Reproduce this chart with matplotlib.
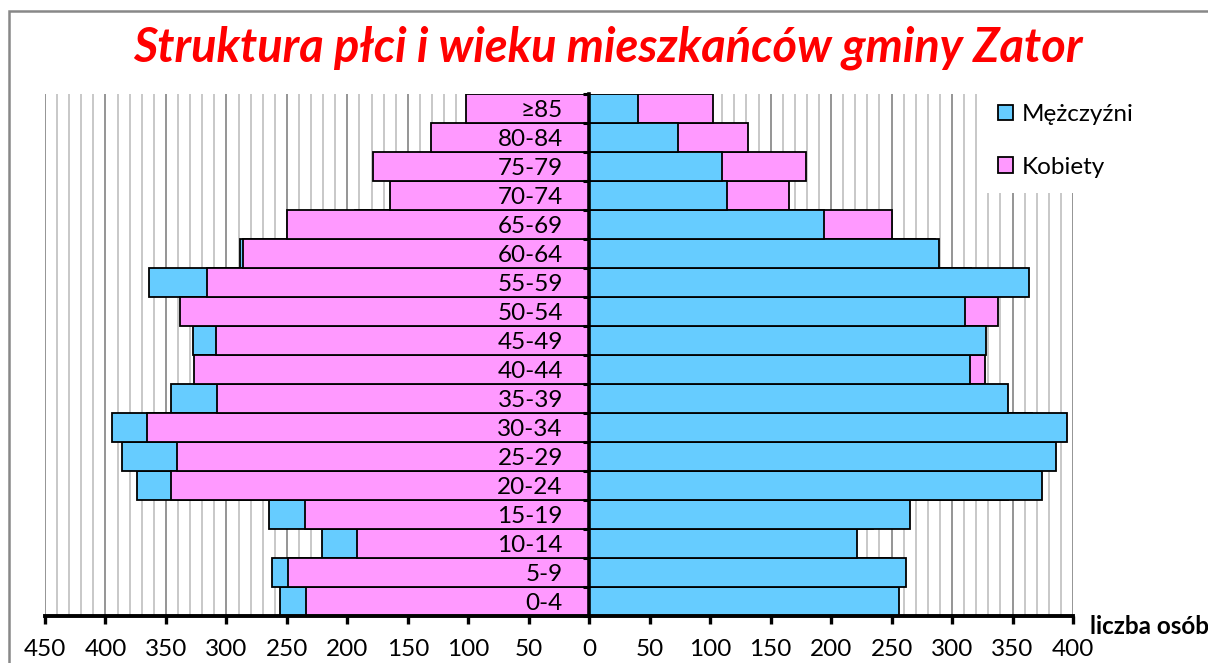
import matplotlib
matplotlib.use("Agg")
import matplotlib.pyplot as plt
from matplotlib.patches import Patch, Rectangle
import numpy as np

categories = ["0-4", "5-9", "10-14", "15-19", "20-24", "25-29", "30-34", "35-39",
              "40-44", "45-49", "50-54", "55-59", "60-64", "65-69", "70-74",
              "75-79", "80-84", "≥85"]
men   = [256, 262, 221, 265, 374, 386, 395, 346, 315, 328, 311, 364, 289, 194, 114, 110, 73, 40]
women = [234, 249, 192, 235, 346, 341, 366, 308, 327, 309, 338, 316, 286, 250, 165, 179, 131, 102]
xticks = list(range(-450, 401, 50))
title = "Struktura płci i wieku mieszkańców gminy Zator"
series_names = ["Mężczyźni", "Kobiety"]
xlabel = "liczba osób"

BLUE = "#66CCFF"
PINK = "#FF99FF"
FONT = ["Lato", "DejaVu Sans"]
plt.rcParams["font.family"] = FONT

W, H = 1208, 663
fig = plt.figure(figsize=(W / 100, H / 100), dpi=100)
ax = fig.add_axes([45 / W, (H - 615.5) / H, (1073 - 45) / W, (615.5 - 94) / H])

y = np.arange(len(categories))
m = np.array(men)
w = np.array(women)

# gridlines
for v in range(-450, 401, 10):
    major = (v % 50 == 0)
    ax.axvline(v, color="#8c8c8c" if major else "#c4c4c4", lw=1.3, zorder=0.5)

ekw = dict(height=1.0, edgecolor="black", linewidth=1.3, zorder=2)
# left side: men behind, women on top
ax.barh(y, -m, color=BLUE, **ekw)
ax.barh(y, -w, color=PINK, **ekw)
# right side: women behind, men on top
ax.barh(y, w, color=PINK, **ekw)
ax.barh(y, m, color=BLUE, **ekw)

ax.set_xlim(-450, 400)
ax.set_ylim(-0.5, len(categories) - 0.5)
ax.set_axisbelow(False)

for s in ["top", "right"]:
    ax.spines[s].set_visible(False)
ax.spines["left"].set_position(("data", 0))
ax.spines["left"].set_linewidth(2.6)
ax.spines["bottom"].set_linewidth(2.8)
ax.spines["left"].set_zorder(3)
ax.spines["bottom"].set_zorder(3)

ax.set_xticks(xticks)
ax.set_xticklabels([str(abs(t)) for t in xticks], fontsize=17.5)
ax.tick_params(axis="x", direction="out", length=6, width=2.4, pad=11, colors="black")

ax.set_yticks(np.arange(-0.5, len(categories), 1.0))
ax.set_yticklabels([])
ax.tick_params(axis="y", which="major", direction="out", length=4.5, width=2.2)
ax.set_yticks(y, minor=True)
ax.set_yticklabels(categories, minor=True, fontsize=17.5)
ax.tick_params(axis="y", which="minor", length=0, pad=19)

fig.text(1090 / W, 1 - 626 / H, xlabel, fontsize=17.5, fontweight="bold",
         ha="left", va="center")

fig.text(608 / W, 1 - 48 / H, title, fontsize=33.8, fontweight="bold", style="italic",
         color="#FF0000", ha="center", va="center")

# chart border
fig.patches.append(Rectangle((9 / W, -0.1), 1.2, 1.1 - 11 / H, transform=fig.transFigure,
                             fill=False, edgecolor="#888888", linewidth=1.8, zorder=0))
# legend background
fig.patches.append(Rectangle((980 / W, (H - 193) / H), (W - 980) / W, (193 - 80) / H,
                             transform=fig.transFigure, facecolor="white",
                             edgecolor="none", zorder=4))
handles = [Patch(facecolor=BLUE, edgecolor="black", linewidth=1.3),
           Patch(facecolor=PINK, edgecolor="black", linewidth=1.3)]
fig.legend(handles, series_names, loc="upper left",
           bbox_to_anchor=(998 / W, 1 - 104 / H), frameon=False, fontsize=17.5,
           handlelength=0.62, handleheight=0.62, handletextpad=0.35,
           labelspacing=1.3, borderpad=0, borderaxespad=0)

fig.savefig("out.png", dpi=100)
